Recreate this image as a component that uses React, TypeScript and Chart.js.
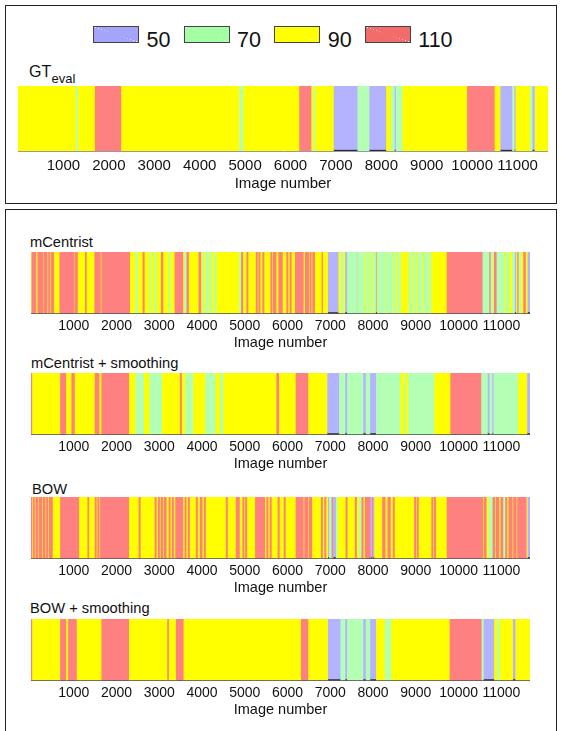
import React, { useEffect, useRef } from 'react';
import { Chart, registerables } from 'chart.js';

Chart.register(...registerables);

// ---------- data ----------
const CLASSES = [50, 70, 90, 110];
const BAR_COLORS = ['#B3B3FF', '#B3FFB3', '#FFFF00', '#FF8080'];
const LEGEND_COLORS = ['#A4A4FA', '#A4FFA4', '#FFFF00', '#F26C6C'];
const TICKS = [1000, 2000, 3000, 4000, 5000, 6000, 7000, 8000, 9000, 10000, 11000];
const X_MAX = 11670;

// GT_eval
const gtEdges = [0, 1280, 1310, 1699, 2265, 4878, 4952, 6200, 6451, 6508, 6539, 6949, 7478, 7735, 8110, 8220, 8290, 8320, 8456, 9895, 10489, 10621, 10886, 10915, 10930, 10958, 11282, 11326, 11377, 11670];
const gtClass = [90, 70, 90, 110, 90, 70, 90, 110, 90, 70, 90, 50, 70, 50, 90, 70, 50, 70, 90, 110, 90, 50, 70, 90, 50, 90, 70, 50, 90];

// mCentrist
const mcEdges = [0, 20, 113, 160, 284, 308, 378, 409, 440, 471,
  533, 673, 1008, 1031, 1086, 1270, 1295, 1490, 1623, 1654,
  2307, 2447, 2494, 2618, 2650, 2774, 2805, 2891, 2930, 3046,
  3085, 3225, 3256, 3365, 3552, 3591, 3630, 3684, 3926, 3972,
  4019, 4050, 4097, 4135, 4174, 4221, 4291, 4330, 4875, 4906,
  4953, 5046, 5077, 5264, 5295, 5326, 5357, 5419, 5450, 5606,
  5637, 5668, 5730, 5793, 5880, 5979, 6010, 6057, 6088, 6181,
  6368, 6415, 6493, 6524, 6555, 6586, 6633, 6804, 6819, 6944,
  7193, 7255, 7302, 7348, 7395, 7613, 7636, 7800, 7846, 7908,
  7948, 7986, 8018, 8064, 8095, 8126, 8282, 8313, 8453, 8492,
  8547, 8593, 8640, 8842, 8905, 8951, 9013, 9060, 9153, 9200,
  9293, 9325, 9356, 9729, 10569, 10709, 10756, 10803, 10834, 10896,
  11067, 11114, 11176, 11254, 11316, 11347, 11378, 11410, 11456, 11519,
  11565, 11612, 11670];
const mcClass = [90, 110, 90, 110, 90, 110, 90, 110, 90, 110,
  90, 110, 90, 110, 90, 110, 90, 110, 90, 110,
  90, 70, 90, 110, 90, 70, 90, 70, 90, 110,
  90, 70, 90, 110, 90, 70, 110, 90, 110, 90,
  70, 90, 70, 90, 70, 90, 70, 90, 70, 110,
  90, 110, 90, 110, 90, 110, 90, 110, 90, 110,
  90, 110, 90, 110, 90, 110, 90, 110, 90, 110,
  90, 110, 90, 110, 90, 110, 90, 110, 90, 50,
  90, 70, 90, 50, 70, 110, 70, 90, 70, 90,
  70, 90, 70, 50, 90, 70, 90, 70, 90, 70,
  90, 70, 90, 70, 90, 70, 90, 70, 90, 70,
  90, 70, 90, 110, 70, 110, 70, 90, 110, 70,
  90, 70, 90, 70, 50, 90, 110, 70, 90, 110,
  90, 50];

// mCentrist + smoothing
const mcsEdges = [0, 20, 689, 814, 953, 1016, 1498, 1591, 1654, 2284,
  2447, 2634, 2774, 3054, 3490, 3521, 3614, 3785, 4081, 4307,
  4423, 4485, 5746, 5793, 6197, 6477, 6928, 7208, 7348, 7395,
  7769, 7831, 7932, 8072, 8632, 8726, 8749, 8827, 9426, 9815,
  10538, 10678, 10725, 10787, 10818, 11386, 11604, 11670];
const mcsClass = [110, 90, 110, 90, 110, 90, 110, 90, 110, 90,
  70, 90, 70, 90, 110, 90, 70, 90, 70, 90,
  70, 90, 110, 90, 110, 90, 50, 70, 50, 70,
  50, 70, 50, 70, 90, 70, 90, 70, 90, 110,
  70, 50, 70, 50, 70, 90, 50];

// BOW
const bowEdges = [0, 20, 51, 82, 113, 160, 191, 253, 284, 331,
  362, 393, 424, 502, 689, 1117, 1327, 1350, 1498, 1529,
  1560, 1591, 1623, 2284, 2525, 2556, 2899, 2930, 2976, 3007,
  3039, 3085, 3116, 3163, 3225, 3256, 3303, 3334, 3381, 3552,
  3599, 3630, 3677, 3708, 3863, 3894, 3957, 4003, 4050, 4081,
  4564, 4595, 4797, 4875, 4953, 4984, 5015, 5046, 5248, 5466,
  5513, 5544, 5590, 5621, 5777, 5808, 5917, 5948, 6197, 6368,
  6399, 6477, 6508, 6570, 6788, 6819, 6866, 6897, 6944, 6975,
  7022, 7068, 7131, 7162, 7364, 7395, 7582, 7613, 7675, 7722,
  7769, 7815, 7940, 7971, 8002, 8033, 8220, 8282, 8344, 8407,
  8469, 8500, 8967, 8998, 9029, 9060, 9371, 9402, 9433, 9465,
  9729, 10569, 10600, 10647, 10709, 10787, 10849, 10881, 10943, 10989,
  11052, 11083, 11130, 11176, 11254, 11285, 11347, 11378, 11581, 11612,
  11670];
const bowClass = [110, 90, 110, 90, 110, 90, 110, 90, 110, 90,
  110, 90, 110, 90, 110, 90, 110, 90, 110, 90,
  110, 90, 110, 90, 110, 90, 110, 90, 110, 90,
  110, 90, 110, 90, 110, 90, 110, 90, 110, 90,
  110, 90, 110, 90, 110, 90, 110, 90, 110, 90,
  110, 90, 110, 90, 110, 90, 110, 90, 110, 90,
  110, 90, 110, 90, 110, 90, 110, 90, 110, 90,
  110, 90, 110, 90, 110, 90, 110, 90, 50, 70,
  110, 50, 70, 90, 110, 90, 110, 90, 70, 110,
  90, 110, 50, 110, 50, 90, 110, 90, 110, 90,
  110, 90, 110, 90, 110, 90, 110, 90, 110, 90,
  110, 90, 110, 90, 70, 110, 90, 110, 90, 110,
  70, 110, 90, 110, 90, 110, 90, 110, 90, 50];

// BOW + smoothing
const bsEdges = [0, 20, 689, 814, 876, 1063, 1654, 2284, 3194, 3217,
  3396, 3560, 6321, 6477, 6944, 7240, 7348, 7395, 7769, 7831,
  7932, 8072, 8282, 8414, 9799, 10546, 10585, 10834, 10912, 10958,
  11270, 11332, 11670];
const bsClass = [110, 90, 110, 90, 110, 90, 110, 90, 110, 90,
  110, 90, 110, 90, 50, 70, 50, 70, 50, 70,
  50, 90, 70, 90, 110, 70, 50, 90, 70, 90,
  50, 90];

// ---------- rendering ----------
const FONT = "'Liberation Sans', Arial, Helvetica, sans-serif";
const DRAW_ORDER: Record<number, number> = { 50: 0, 70: 1, 110: 2, 90: 3 };

type StripProps = {
  edges: number[];
  cls: number[];
  left: number;
  top: number;
  width: number;
  height: number;
  tickSize: number;
  titleSize: number;
  tickGap: number;
  titlePadBottom: number;
  axisColor: string;
};

function Strip(p: StripProps) {
  const ref = useRef<HTMLCanvasElement | null>(null);
  useEffect(() => {
    if (!ref.current) return;
    const datasets = CLASSES.map((c, k) => ({
      label: String(c),
      data: p.cls
        .map((v, i) => (v === c ? { x: [p.edges[i], p.edges[i + 1]], y: 's' } : null))
        .filter((d) => d !== null),
      backgroundColor: BAR_COLORS[k],
      borderColor: '#2a2a3a',
      borderWidth: c === 50 ? { top: 0, left: 0, right: 0, bottom: 1.5 } : 0,
      borderSkipped: false,
      grouped: false,
      barPercentage: 1,
      categoryPercentage: 1,
      order: DRAW_ORDER[c],
    }));
    const chart = new Chart(ref.current, {
      type: 'bar',
      data: { labels: ['s'], datasets: datasets as any },
      options: {
        responsive: false,
        animation: false,
        devicePixelRatio: 1,
        events: [],
        indexAxis: 'y',
        layout: { padding: 0 },
        plugins: {
          legend: { display: false },
          tooltip: { enabled: false },
          title: { display: false },
        },
        scales: {
          y: { type: 'category', display: false },
          x: {
            type: 'linear',
            min: 0,
            max: X_MAX,
            z: 1,
            afterBuildTicks: (scale: any) => {
              scale.ticks = TICKS.map((v) => ({ value: v }));
            },
            ticks: {
              callback: (v: any) => String(v),
              font: { family: FONT, size: p.tickSize },
              color: '#111',
              padding: 0,
              maxRotation: 0,
              minRotation: 0,
              autoSkip: false,
            },
            grid: { display: false, drawTicks: true, tickLength: p.tickGap },
            border: { display: true, color: p.axisColor, width: 1 },
            title: {
              display: true,
              text: 'Image number',
              font: { family: FONT, size: p.titleSize },
              color: '#111',
              padding: { top: 0, bottom: p.titlePadBottom },
            },
          },
        },
      } as any,
    });
    return () => chart.destroy();
  }, []);
  return (
    <canvas
      ref={ref}
      width={p.width}
      height={p.height}
      style={{ position: 'absolute', left: p.left, top: p.top, width: p.width, height: p.height }}
    />
  );
}

const labelStyle = (left: number, baseline: number, size: number): React.CSSProperties => ({
  position: 'absolute',
  left,
  top: baseline - size * 0.8465,
  fontSize: size,
  lineHeight: `${size}px`,
  whiteSpace: 'nowrap',
  color: '#111',
});

export default function App() {
  const lower = [
    { name: 'mCentrist', edges: mcEdges, cls: mcClass, top: 252, labelLeft: 30, baseline: 247 },
    { name: 'mCentrist + smoothing', edges: mcsEdges, cls: mcsClass, top: 373, labelLeft: 31, baseline: 368 },
    { name: 'BOW', edges: bowEdges, cls: bowClass, top: 497, labelLeft: 32, baseline: 494 },
    { name: 'BOW + smoothing', edges: bsEdges, cls: bsClass, top: 619, labelLeft: 30, baseline: 613 },
  ];
  return (
    <div
      style={{
        position: 'fixed',
        left: 0,
        top: 0,
        width: 562,
        height: 731,
        overflow: 'hidden',
        background: '#fff',
        fontFamily: FONT,
      }}
    >
      <div style={{ position: 'absolute', left: 5, top: 5, width: 550, height: 197, border: '1px solid #222' }} />
      <div style={{ position: 'absolute', left: 5, top: 209, width: 550, height: 600, border: '1px solid #222' }} />

      {CLASSES.map((c, i) => {
        const sx = 93 + i * 90.6;
        return (
          <React.Fragment key={c}>
            <div
              style={{
                position: 'absolute',
                left: sx,
                top: 26,
                width: 44,
                height: 15,
                border: '1px solid #444',
                background: `linear-gradient(to top right, ${LEGEND_COLORS[i]} 49.5%, rgba(255,255,255,0.55) 50%, ${LEGEND_COLORS[i]} 50.5%)`,
              }}
            />
            <div style={labelStyle(sx + 53.5, 48, 21.5)}>{String(c)}</div>
          </React.Fragment>
        );
      })}

      <div style={labelStyle(29, 78, 16)}>GT</div>
      <div style={labelStyle(51.5, 83, 13)}>eval</div>
      <Strip
        edges={gtEdges}
        cls={gtClass}
        left={18}
        top={86}
        width={530}
        height={110}
        tickSize={15}
        titleSize={15}
        tickGap={6.3}
        titlePadBottom={2.7}
        axisColor="#999"
      />

      {lower.map((s) => (
        <React.Fragment key={s.name}>
          <div style={labelStyle(s.labelLeft, s.baseline, 14.7)}>{s.name}</div>
          <Strip
            edges={s.edges}
            cls={s.cls}
            left={31}
            top={s.top}
            width={499}
            height={100}
            tickSize={14}
            titleSize={14.5}
            tickGap={4.5}
            titlePadBottom={0}
            axisColor="#555"
          />
        </React.Fragment>
      ))}
    </div>
  );
}
